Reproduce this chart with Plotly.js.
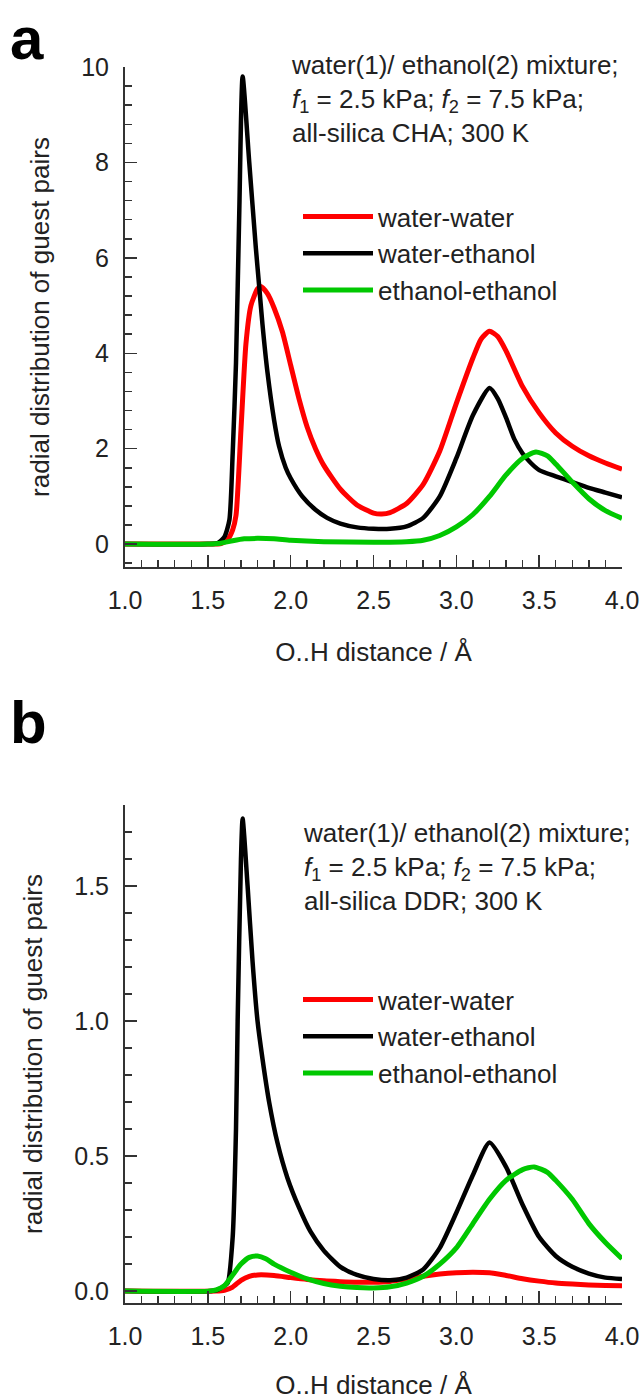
<!DOCTYPE html>
<html>
<head>
<meta charset="utf-8">
<script src="https://cdn.plot.ly/plotly-3.0.1.min.js"></script>
<style>html,body{margin:0;padding:0;background:#fff;}#chart{width:643px;height:1400px;}</style>
</head>
<body>
<div id="chart"></div>
<script>
// ---------- Data ----------
const seriesNames = ["water-water", "water-ethanol", "ethanol-ethanol"];

// Panel a: all-silica CHA
const aWaterWaterX = [1.0,1.5,1.58,1.62,1.65,1.67,1.70,1.73,1.76,1.80,1.82,1.86,1.90,1.95,2.0,2.05,2.1,2.15,2.2,2.3,2.4,2.5,2.55,2.6,2.7,2.8,2.9,3.0,3.1,3.15,3.2,3.25,3.3,3.4,3.5,3.6,3.7,3.8,3.9,4.0];
const aWaterWaterY = [0,0,0.01,0.1,0.3,0.6,2.4,4.2,5.0,5.35,5.4,5.25,4.95,4.45,3.75,3.05,2.45,2.0,1.65,1.15,0.82,0.65,0.63,0.66,0.85,1.25,1.95,2.95,3.9,4.3,4.46,4.35,4.05,3.3,2.75,2.33,2.05,1.85,1.7,1.57];
const aWaterEthanolX = [1.0,1.5,1.56,1.60,1.63,1.65,1.67,1.69,1.71,1.75,1.79,1.81,1.83,1.86,1.9,1.93,1.97,2.0,2.07,2.15,2.22,2.3,2.4,2.5,2.6,2.7,2.8,2.9,3.0,3.1,3.2,3.25,3.3,3.35,3.4,3.45,3.5,3.6,3.7,3.8,3.9,4.0];
const aWaterEthanolY = [0,0,0.02,0.15,0.5,1.9,3.8,7.0,9.8,8.0,6.2,5.4,4.6,3.6,2.6,2.05,1.6,1.38,1.0,0.72,0.55,0.43,0.35,0.32,0.32,0.37,0.55,1.0,1.8,2.7,3.27,3.05,2.65,2.2,1.9,1.7,1.55,1.42,1.3,1.18,1.08,0.98];
const aEthanolEthanolX = [1.0,1.5,1.58,1.65,1.72,1.8,1.9,2.0,2.2,2.5,2.7,2.8,2.9,3.0,3.1,3.2,3.3,3.4,3.48,3.55,3.6,3.7,3.8,3.9,4.0];
const aEthanolEthanolY = [0,0,0.02,0.07,0.11,0.12,0.11,0.08,0.05,0.04,0.05,0.08,0.18,0.36,0.62,1.0,1.45,1.8,1.93,1.85,1.68,1.3,0.95,0.7,0.54];

// Panel b: all-silica DDR
const bWaterWaterX = [1.0,1.55,1.6,1.65,1.7,1.75,1.8,1.9,2.0,2.1,2.2,2.3,2.4,2.5,2.6,2.7,2.8,2.9,3.0,3.1,3.2,3.3,3.4,3.5,3.6,3.7,3.8,3.9,4.0];
const bWaterWaterY = [0,0,0.003,0.015,0.04,0.055,0.06,0.058,0.05,0.043,0.038,0.035,0.033,0.033,0.036,0.045,0.055,0.063,0.068,0.07,0.068,0.058,0.046,0.037,0.03,0.026,0.023,0.021,0.02];
const bWaterEthanolX = [1.0,1.5,1.56,1.6,1.62,1.65,1.67,1.68,1.70,1.71,1.74,1.77,1.80,1.83,1.87,1.92,1.98,2.05,2.12,2.2,2.3,2.4,2.5,2.6,2.7,2.8,2.9,3.0,3.1,3.2,3.3,3.4,3.5,3.6,3.7,3.8,3.9,4.0];
const bWaterEthanolY = [0,0,0.005,0.02,0.03,0.2,0.6,1.0,1.6,1.75,1.5,1.22,1.0,0.86,0.7,0.55,0.42,0.31,0.22,0.15,0.09,0.06,0.045,0.04,0.05,0.08,0.16,0.29,0.43,0.55,0.46,0.32,0.2,0.13,0.09,0.065,0.05,0.045];
const bEthanolEthanolX = [1.0,1.5,1.55,1.6,1.65,1.7,1.75,1.8,1.85,1.9,2.0,2.1,2.2,2.3,2.4,2.5,2.6,2.7,2.8,2.9,3.0,3.1,3.2,3.3,3.4,3.47,3.55,3.6,3.7,3.8,3.9,4.0];
const bEthanolEthanolY = [0,0,0.005,0.02,0.06,0.1,0.125,0.13,0.12,0.1,0.07,0.045,0.028,0.018,0.013,0.012,0.016,0.03,0.055,0.1,0.16,0.25,0.34,0.41,0.45,0.46,0.44,0.41,0.34,0.25,0.18,0.12];

const xTicks = [1.0, 1.5, 2.0, 2.5, 3.0, 3.5, 4.0];
const aYTicks = [0, 2, 4, 6, 8, 10];
const bYTicks = [0.0, 0.5, 1.0, 1.5];
const annotationLinesA = ["water(1)/ ethanol(2) mixture;", "<i>f</i><sub>1</sub> = 2.5 kPa; <i>f</i><sub>2</sub> = 7.5 kPa;", "all-silica CHA; 300 K"];
const annotationLinesB = ["water(1)/ ethanol(2) mixture;", "<i>f</i><sub>1</sub> = 2.5 kPa; <i>f</i><sub>2</sub> = 7.5 kPa;", "all-silica DDR; 300 K"];
const xTitle = "O..H distance / Å";
const yTitle = "radial distribution of guest pairs";

// ---------- Styling ----------
const colors = ["#ff0000", "#000000", "#00c800"];
const FONT = "Liberation Sans, Arial, sans-serif";
const W = 643, H = 1400;
const px = v => v / W;
const py = v => 1 - v / H;

function mk(x, y, i, xa, ya, leg) {
  return {
    x: x, y: y, type: "scatter", mode: "lines",
    name: seriesNames[i], xaxis: xa, yaxis: ya, legend: leg,
    line: {color: colors[i], width: i === 1 ? 4.5 : 5, shape: "spline", smoothing: 0.6},
    hoverinfo: "skip"
  };
}

const traces = [
  mk(aWaterWaterX, aWaterWaterY, 0, "x", "y", "legend"),
  mk(aWaterEthanolX, aWaterEthanolY, 1, "x", "y", "legend"),
  mk(aEthanolEthanolX, aEthanolEthanolY, 2, "x", "y", "legend"),
  mk(bWaterWaterX, bWaterWaterY, 0, "x2", "y2", "legend2"),
  mk(bWaterEthanolX, bWaterEthanolY, 1, "x2", "y2", "legend2"),
  mk(bEthanolEthanolX, bEthanolEthanolY, 2, "x2", "y2", "legend2")
];

function xAxis(anchor) {
  return {
    anchor: anchor, domain: [px(125), px(622)], range: [1, 4],
    tickvals: xTicks, ticktext: xTicks.map(v => v.toFixed(1)),
    ticks: "inside", ticklen: 12, tickwidth: 1.5, tickcolor: "#333",
    minor: {dtick: 0.1, tick0: 1, ticks: "inside", ticklen: 7, tickwidth: 1.5, tickcolor: "#333"},
    showline: true, linecolor: "#333", linewidth: 2,
    showgrid: false, zeroline: false,
    tickfont: {family: FONT, size: 25, color: "#222"},
    ticklabelstandoff: 10,
    title: {text: xTitle, font: {family: FONT, size: 26, color: "#222"}, standoff: 30},
    fixedrange: true
  };
}
function yAxis(anchor, dom, range, ticks, fmt, minorDt) {
  return {
    anchor: anchor, domain: dom, range: range,
    tickvals: ticks, ticktext: ticks.map(v => v.toFixed(fmt)),
    ticks: "inside", ticklen: 12, tickwidth: 1.5, tickcolor: "#333",
    minor: {dtick: minorDt, tick0: 0, ticks: "inside", ticklen: 7, tickwidth: 1.5, tickcolor: "#333"},
    showline: true, linecolor: "#333", linewidth: 2,
    showgrid: false, zeroline: false,
    tickfont: {family: FONT, size: 25, color: "#222"},
    ticklabelstandoff: 9,
    title: {text: yTitle, font: {family: FONT, size: 26, color: "#222"}, standoff: 24},
    fixedrange: true
  };
}

function legendCfg(xp, yp) {
  return {
    x: px(xp), y: py(yp), xanchor: "left", yanchor: "top",
    bgcolor: "rgba(0,0,0,0)", borderwidth: 0,
    font: {family: FONT, size: 26, color: "#222"},
    itemwidth: 70, tracegroupgap: 0
  };
}

function infoAnn(lines, xp, yp) {
  return {
    text: lines.join("<br>"), xref: "paper", yref: "paper",
    x: px(xp), y: py(yp), xanchor: "left", yanchor: "top", align: "left",
    showarrow: false, font: {family: FONT, size: 26, color: "#222"}
  };
}

function panelLabel(t, xp, ymid) {
  return {text: "<b>" + t + "</b>", xref: "paper", yref: "paper", x: px(xp), y: py(ymid),
          xanchor: "left", yanchor: "middle", showarrow: false,
          font: {family: FONT, size: 60, color: "#000"}};
}

const layout = {
  width: W, height: H,
  margin: {l: 0, r: 0, t: 0, b: 0},
  paper_bgcolor: "#fff", plot_bgcolor: "#fff",
  showlegend: true,
  xaxis: xAxis("y"),
  yaxis: yAxis("x", [py(567), py(67)], [-0.48, 10], aYTicks, 0, 0.4),
  xaxis2: xAxis("y2"),
  yaxis2: yAxis("x2", [py(1303), py(805)], [-0.044, 1.8], bYTicks, 1, 0.1),
  legend: legendCfg(298, 193),
  legend2: legendCfg(298, 976),
  annotations: [
    infoAnn(annotationLinesA, 289, 48),
    infoAnn(annotationLinesB, 301, 816),
    panelLabel("a", 8, 39),
    panelLabel("b", 8, 722)
  ]
};

Plotly.newPlot("chart", traces, layout, {displayModeBar: false, staticPlot: true});
</script>
</body>
</html>
